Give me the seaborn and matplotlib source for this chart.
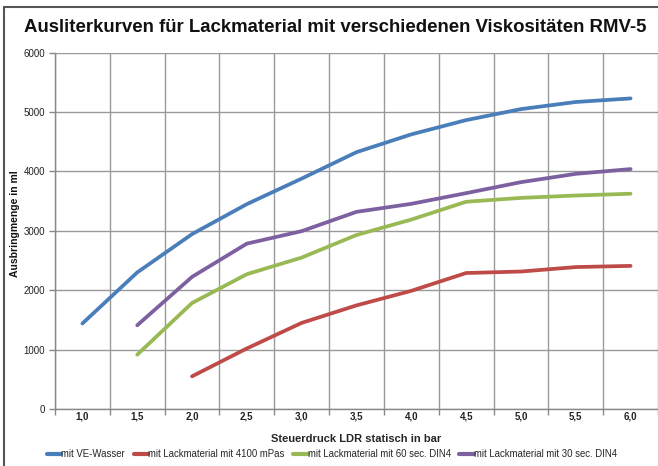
import matplotlib
matplotlib.use("Agg")
import matplotlib.pyplot as plt
from matplotlib.lines import Line2D
import seaborn as sns
import pandas as pd
import numpy as np

categories = ["1,0", "1,5", "2,0", "2,5", "3,0", "3,5", "4,0", "4,5", "5,0", "5,5", "6,0"]
ve_wasser = [1440, 2300, 2945, 3450, 3880, 4325, 4625, 4865, 5050, 5170, 5230]
lack_4100 = [None, None, 550, 1020, 1450, 1745, 1990, 2290, 2315, 2390, 2410]
lack_60 = [None, 915, 1785, 2270, 2550, 2930, 3190, 3490, 3555, 3595, 3625]
lack_30 = [None, 1410, 2225, 2785, 2995, 3320, 3455, 3635, 3820, 3960, 4040]

series_names = ["mit VE-Wasser", "mit Lackmaterial mit 4100 mPas",
                "mit Lackmaterial mit 60 sec. DIN4", "mit Lackmaterial mit 30 sec. DIN4"]
series_vals = [ve_wasser, lack_4100, lack_60, lack_30]
colors = ["#4A7EBB", "#BE4B48", "#98B954", "#7D60A0"]

rows = []
for name, vals in zip(series_names, series_vals):
    for i, v in enumerate(vals):
        if v is not None:
            rows.append({"pos": i, "val": v, "serie": name})
df = pd.DataFrame(rows)

sns.set_theme(style="white")
plt.rcParams["font.family"] = ["Liberation Sans", "DejaVu Sans"]

W, H = 658, 466
fig = plt.figure(figsize=(W / 100, H / 100), dpi=100)
ax = fig.add_axes([55 / W, (H - 409) / H, (W - 55) / W, (409 - 52.7) / H])

sns.lineplot(data=df, x="pos", y="val", hue="serie", hue_order=series_names,
             palette=colors, linewidth=2.7, ax=ax, legend=False, sort=True)
for l in ax.lines:
    l.set_solid_capstyle("round")
    l.set_solid_joinstyle("round")

n = len(categories)
ax.set_xlim(-0.5, (W - 55) / 55 - 0.5)
ax.set_ylim(0, 6000)
ax.set_xticks(np.arange(-0.5, n, 1.0))
ax.set_xticklabels([])
ax.set_xticks(np.arange(n), minor=True)
ax.set_xticklabels(categories, minor=True, fontsize=7, fontweight="bold", color="#222222")
ax.set_yticks(np.arange(0, 6001, 1000))
ax.set_yticklabels([str(v) for v in range(0, 6001, 1000)], fontsize=7, color="#222222")

ax.tick_params(axis="x", which="major", length=4, color="#888888", width=1, direction="out", bottom=True)
ax.tick_params(axis="x", which="minor", length=0, pad=2)
ax.tick_params(axis="y", which="major", length=4, color="#888888", width=1, direction="out", left=True, pad=3)

ax.grid(True, which="major", color="#999999", linewidth=1)
ax.set_axisbelow(True)
for s in ["top", "right"]:
    ax.spines[s].set_visible(False)
for s in ["left", "bottom"]:
    ax.spines[s].set_color("#888888")
    ax.spines[s].set_linewidth(1)

ax.set_xlabel("Steuerdruck LDR statisch in bar", fontsize=8, fontweight="bold", labelpad=9)
ax.set_ylabel("")
fig.text(15 / W, 1 - 224 / H, "Ausbringmenge in ml", rotation=90, ha="center", va="center",
         fontsize=7.5, fontweight="bold", color="#111111")

fig.text(335 / W, 1 - 28 / H, "Ausliterkurven für Lackmaterial mit verschiedenen Viskositäten RMV-5",
         ha="center", va="center", fontsize=13.45, fontweight="bold", color="#111111")

handles = [Line2D([0], [0], color=c, lw=3) for c in colors]
fig.legend(handles, series_names, loc="center", bbox_to_anchor=(332 / W, 1 - 454 / H),
           ncol=4, frameon=False, fontsize=6.9, handlelength=1.5, handletextpad=0.0,
           columnspacing=0.9)

fig.add_artist(Line2D([4 / W, 4 / W], [0, 1 - 7 / H], color="#555555", lw=1.5, transform=fig.transFigure))
fig.add_artist(Line2D([4 / W, 1], [1 - 7 / H, 1 - 7 / H], color="#555555", lw=1.5, transform=fig.transFigure))

fig.savefig("out.png", dpi=100)
